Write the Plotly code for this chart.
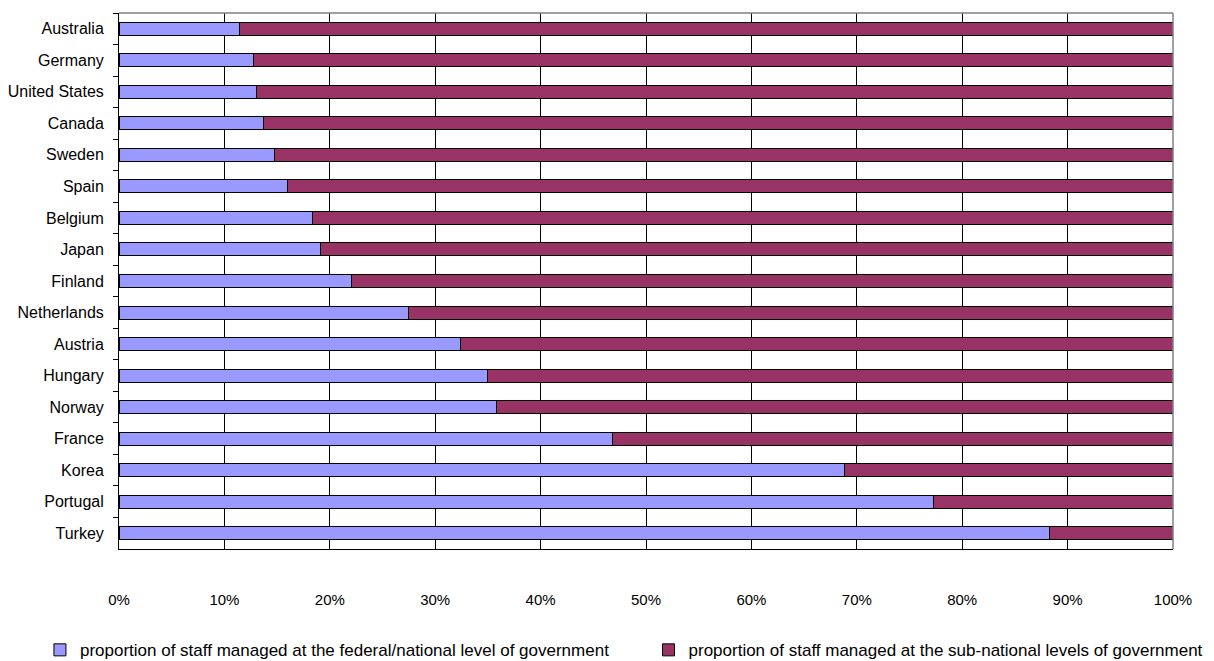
import plotly.graph_objects as go

countries = ["Australia", "Germany", "United States", "Canada", "Sweden", "Spain",
             "Belgium", "Japan", "Finland", "Netherlands", "Austria", "Hungary",
             "Norway", "France", "Korea", "Portugal", "Turkey"]
national = [11.4, 12.8, 13.0, 13.7, 14.8, 16.0, 18.4, 19.1, 22.1, 27.5, 32.4,
            35.0, 35.8, 46.8, 68.8, 77.3, 88.3]
subnational = [round(100 - v, 1) for v in national]
x_ticks = [0, 10, 20, 30, 40, 50, 60, 70, 80, 90, 100]
x_tick_labels = [f"{t}%" for t in x_ticks]

FONT = "Liberation Sans, Arial, sans-serif"

fig = go.Figure()
fig.add_trace(go.Bar(
    y=countries, x=national, orientation="h",
    name="proportion of staff managed at the federal/national level of government",
    marker=dict(color="#9999FF", line=dict(color="#000000", width=1)),
    legend="legend", showlegend=True,
))
fig.add_trace(go.Bar(
    y=countries, x=subnational, orientation="h",
    name="proportion of staff managed at the sub-national levels of government",
    marker=dict(color="#993366", line=dict(color="#000000", width=1)),
    legend="legend2", showlegend=True,
))

fig.update_layout(
    barmode="stack",
    bargap=0.588,
    width=1206, height=653,
    showlegend=True,
    margin=dict(l=111, r=41, t=5, b=111.5, autoexpand=False),
    paper_bgcolor="white", plot_bgcolor="white",
    font=dict(family=FONT, size=16, color="#000000"),
    legend=dict(
        x=-0.075, xanchor="left", y=-0.189, yanchor="middle",
        font=dict(size=17), itemwidth=30, bgcolor="rgba(0,0,0,0)",
        visible=True,
    ),
    legend2=dict(
        x=0.5024, xanchor="left", y=-0.189, yanchor="middle",
        font=dict(size=17), itemwidth=30, bgcolor="rgba(0,0,0,0)",
        visible=True,
    ),
    xaxis=dict(
        range=[0, 100], tickvals=x_ticks, ticktext=x_tick_labels,
        showgrid=True, gridcolor="black", gridwidth=1,
        showline=True, linecolor="#000000", linewidth=1,
        ticks="outside", ticklen=37, tickcolor="rgba(0,0,0,0)",
        tickfont=dict(size=15), zeroline=False, automargin=False,
    ),
    yaxis=dict(
        categoryorder="array", categoryarray=countries, autorange="reversed",
        showline=True, linecolor="#000000", linewidth=1,
        ticks="outside", ticklen=5, tickcolor="#000000", tickson="boundaries",
        ticklabelstandoff=11, showgrid=False, automargin=False,
    ),
    shapes=[
        dict(type="line", xref="paper", yref="paper", x0=0, x1=1, y0=1, y1=1,
             line=dict(color="#808080", width=1.5)),
        dict(type="line", xref="paper", yref="paper", x0=1, x1=1, y0=0, y1=1,
             line=dict(color="#808080", width=1.5)),
    ],
)

fig.write_html("out.html")
